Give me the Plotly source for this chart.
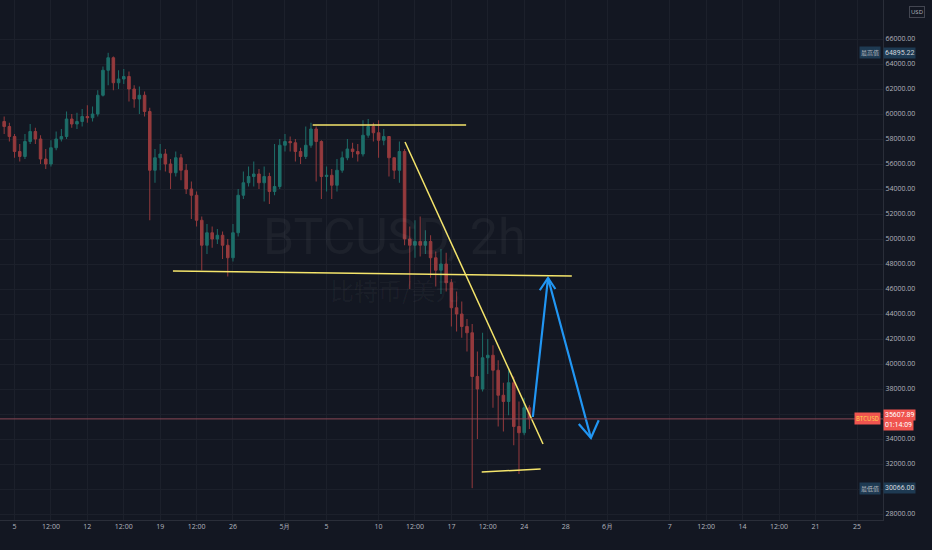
import plotly.graph_objects as go
import pandas as pd

start = "2021-04-04 00:00"
closes = [59000,58200, 57000,56600, 57800,58600, 58000,56400, 56000,57300, 58000,58200,
          59600,59200, 59400,59800, 59700,60000, 61500,63500, 64500,62500, 62800,63000,
          62000,61200, 61500,60200, 55500,56500, 56800,56000, 55300,56500, 55500,54000,
          53500,51500, 49500,50500, 50000,50300, 49500,48500, 50500,53500, 54500,55000,
          55200,54500, 55000,53800, 54200,57500, 57800,57700, 57000,56600, 57500,58800,
          57800,55000, 55100,54300, 55500,56500, 57200,57000, 56800,58300, 59000,58500,
          57900,58200, 56500,55500, 57000,50000, 49500,49800, 49500,49800, 48500,47500,
          48000,46500, 44500,44000, 43000,42500, 39000,38000, 40500,40700, 39500,37500,
          37000,38500, 35000,34500, 36500,35607.89]
highs = [59800,59300, 58400,57600, 58400,59200, 58900,58300, 57200,57900, 58600,58800,
         60200,60000, 60100,60400, 60700,60600, 61900,63800, 64895.22,64600, 63500,63600,
         63400,62300, 62200,61800, 60500,57200, 57600,57200, 56400,57000, 56800,56000,
         54600,53800, 51800,51200, 51000,50800, 50600,50000, 51200,54000, 55400,55800,
         56200,55600, 55800,55300, 57600,58000, 58400,58200, 58000,57300, 59000,59300,
         59000,57900, 55800,55600, 56400,57000, 58000,57700, 57600,59500, 59600,59300,
         59500,58800, 58200,56400, 57800,57200, 51000,51500, 51800,50700, 50300,49000,
         49200,48900, 46800,45800, 45000,43600, 43200,41000, 42500,42000, 41500,40300,
         38500,39500, 39000,37000, 37300,36700]
lows = [58400,57800, 56500,56200, 56400,57600, 57600,56000, 55600,55800, 57100,57800,
        58000,58900, 58800,59000, 59300,59400, 59800,61400, 62300,61900, 62000,62400,
        61000,60500, 60000,59800, 51500,54500, 55500,55400, 54000,55000, 54700,53600,
        51600,51000, 47500,48800, 49300,49600, 48400,47000, 48200,50200, 53200,54200,
        54200,54000, 53000,52800, 53500,54000, 57000,57000, 56200,56000, 56400,57300,
        54600,53200, 53800,53200, 53800,55300, 56300,56500, 56200,56600, 58100,57800,
        56500,57500, 55000,54800, 54500,49500, 46000,48500, 48600,48800, 46900,46200,
        45600,45800, 43000,42600, 42100,41000, 30066,34000, 37800,39200, 36500,35000,
        34600,35900, 33500,31200, 34300,34800]
first_open = 59400
opens = [first_open] + closes[:-1]
times = pd.date_range(start, periods=len(closes), freq="12h")

price_ticks = list(range(28000, 66001, 2000))
tick_dates = ["2021-04-05","2021-04-08 12:00","2021-04-12","2021-04-15 12:00","2021-04-19",
              "2021-04-22 12:00","2021-04-26","2021-05-01","2021-05-05","2021-05-10",
              "2021-05-13 12:00","2021-05-17","2021-05-20 12:00","2021-05-24","2021-05-28",
              "2021-06-01","2021-06-07","2021-06-10 12:00","2021-06-14","2021-06-17 12:00",
              "2021-06-21","2021-06-25"]
tick_text = ["5","12:00","12","12:00","19","12:00","26","5月","5","10","12:00","17","12:00",
             "24","28","6月","7","12:00","14","12:00","21","25"]

last = closes[-1]
fig = go.Figure(go.Candlestick(
    x=times, open=opens, high=highs, low=lows, close=closes,
    increasing=dict(line=dict(color="#1d6e69", width=1), fillcolor="#1d6e69"),
    decreasing=dict(line=dict(color="#953a3d", width=1), fillcolor="#953a3d"),
    whiskerwidth=0, showlegend=False, hoverinfo="skip"))

yellow = "#f5e56b"
lines = [("2021-04-20 05:30", 47440, "2021-05-28 14:00", 47040),
         ("2021-05-03 16:00", 59120, "2021-05-18 10:00", 59120),
         ("2021-05-12 13:00", 57760, "2021-05-25 19:30", 33600),
         ("2021-05-19 22:00", 31360, "2021-05-25 14:00", 31600)]
for x0, y0, x1, y1 in lines:
    fig.add_shape(type="line", x0=x0, y0=y0, x1=x1, y1=y1, line=dict(color=yellow, width=1.5))

blue = "#2196f3"
arrow = [("2021-05-24 20:00", 35760), ("2021-05-26 07:00", 46880), ("2021-05-30 10:00", 34080)]
fig.add_trace(go.Scatter(x=[p[0] for p in arrow], y=[p[1] for p in arrow], mode="lines",
                         line=dict(color=blue, width=2.2), showlegend=False, hoverinfo="skip"))
heads = [[("2021-05-25 12:00", 45900), ("2021-05-26 07:00", 46880), ("2021-05-27 00:00", 46000)],
         [("2021-05-29 06:00", 35200), ("2021-05-30 10:00", 34080), ("2021-05-31 04:00", 35500)]]
for h in heads:
    fig.add_trace(go.Scatter(x=[p[0] for p in h], y=[p[1] for p in h], mode="lines",
                             line=dict(color=blue, width=2.2), showlegend=False, hoverinfo="skip"))

fig.add_shape(type="line", xref="paper", x0=0, x1=1, y0=last, y1=last,
              line=dict(color="#8a4756", width=1))

fig.add_annotation(x="2021-05-11 12:00", y=50200, text="BTCUSD, 2h", showarrow=False,
                   font=dict(size=50, color="rgba(255,255,255,0.045)", family="Liberation Sans Narrow, Roboto"))
fig.add_annotation(x="2021-05-11 12:00", y=46000, text="比特币/美元", showarrow=False,
                   font=dict(size=24, color="rgba(255,255,255,0.045)", family="Noto Sans CJK SC"))

def box(y, text, bg, fc, yshift=0):
    fig.add_annotation(xref="paper", x=1.0, y=y, xanchor="left", text=text, showarrow=False,
                       bgcolor=bg, font=dict(size=7, color=fc, family="Roboto"),
                       borderpad=1, yshift=yshift)

def tag(y, text, bg, fc):
    fig.add_annotation(xref="paper", x=1.0, y=y, xanchor="right", xshift=-2, text=text, showarrow=False,
                       bgcolor=bg, font=dict(size=6, color=fc, family="Noto Sans CJK SC"), borderpad=1)

tag(last, "BTCUSD", "#f0544f", "#ffd54f")
box(last, "35607.89", "#f0544f", "#ffffff", yshift=4)
box(last, "01:14:09", "#f0544f", "#ffffff", yshift=-6)
tag(64895.22, "最高值", "#1e3a52", "#b2b5be")
box(64895.22, "64895.22", "#1e3a52", "#d1d4dc")
tag(30066, "最低值", "#1e3a52", "#b2b5be")
box(30066, "30066.00", "#1e3a52", "#d1d4dc")
fig.add_annotation(xref="paper", yref="paper", x=1.0, y=1.0, xanchor="left", yanchor="top", xshift=26, yshift=-6,
                   text="USD", showarrow=False, font=dict(size=6, color="#b2b5be"),
                   bordercolor="#434651", borderwidth=1, bgcolor="#131722")

fig.update_layout(
    width=932, height=550, margin=dict(l=0, r=49, t=0, b=30, autoexpand=False),
    paper_bgcolor="#131722", plot_bgcolor="#131722",
    xaxis=dict(type="date", range=["2021-04-03 14:24", "2021-06-27 12:00"], rangeslider=dict(visible=False),
               tickvals=tick_dates, ticktext=tick_text, showgrid=True, gridcolor="#1c202b",
               tickfont=dict(size=7, color="#b2b5be"), ticks="", showline=True, linecolor="#2a2e39"),
    yaxis=dict(side="right", range=[27520, 69120], tickvals=price_ticks,
               ticktext=[f"{v}.00" for v in price_ticks], showgrid=True, gridcolor="#1c202b",
               tickfont=dict(size=7, color="#b2b5be"), ticks="", showline=True, linecolor="#2a2e39",
               zeroline=False),
)
fig.write_html("out.html", config={"displayModeBar": False},
               post_script="document.body.style.margin='0';document.body.style.background='#131722';")
